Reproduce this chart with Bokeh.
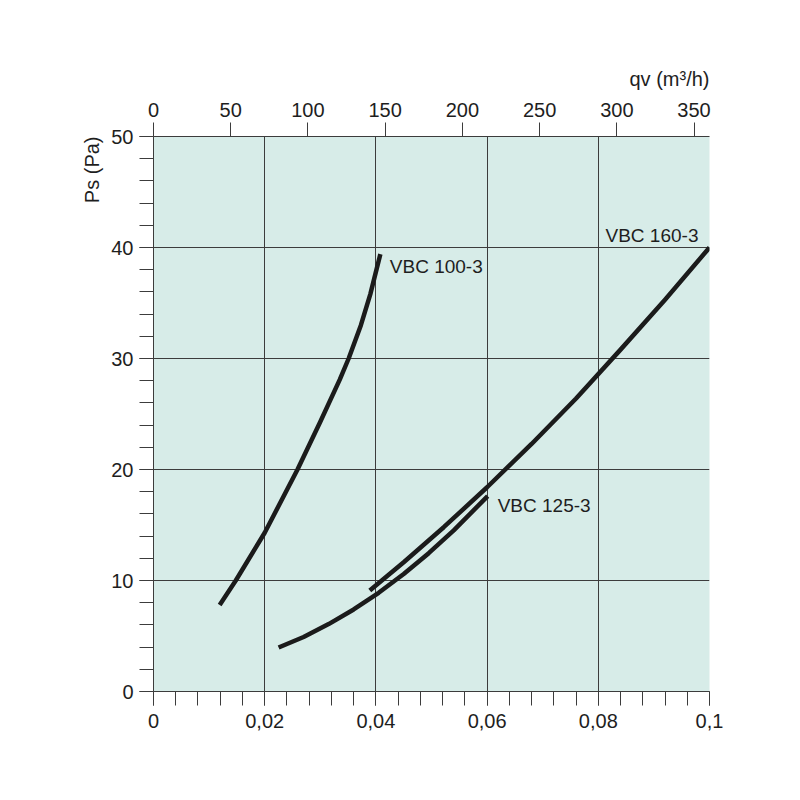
import math
from bokeh.plotting import figure
from bokeh.models import Range1d, LinearAxis, FixedTicker, Title
from bokeh.embed import file_html
from bokeh.resources import INLINE
from bokeh.core.properties import value

# ---- data (qv in m3/s, Ps in Pa) ----
vbc100_q = [0.0119, 0.0148, 0.0200, 0.0259, 0.0300, 0.0335, 0.0351, 0.0373, 0.0390, 0.0408]
vbc100_p = [7.8, 10.0, 14.3, 20.0, 24.3, 28.1, 30.0, 33.0, 35.8, 39.4]

vbc125_q = [0.0225, 0.0270, 0.0315, 0.0360, 0.0405, 0.0450, 0.0495, 0.0540, 0.0601]
vbc125_p = [3.96, 4.91, 6.07, 7.39, 8.89, 10.58, 12.46, 14.52, 17.6]

vbc160_q = [0.0389, 0.0450, 0.0522, 0.0600, 0.0680, 0.0760, 0.0840, 0.0920, 0.1000]
vbc160_p = [9.1, 11.65, 14.8, 18.4, 22.3, 26.4, 30.8, 35.3, 40.0]

curve_names = ["VBC 100-3", "VBC 125-3", "VBC 160-3"]

x_ticks = [0, 0.02, 0.04, 0.06, 0.08, 0.1]
x_tick_labels = ["0", "0,02", "0,04", "0,06", "0,08", "0,1"]
x_minor = [i * 0.004 for i in range(26)]
y_ticks = [0, 10, 20, 30, 40, 50]
y_minor = list(range(0, 51, 2))
top_ticks = [0, 50, 100, 150, 200, 250, 300, 350]

FONT = "Liberation Sans"
INK = "#1b1b1b"
TXT = "#1e1e1e"
GRID = "#3c3c3c"

p = figure(width=790, height=790, output_backend="svg", toolbar_location=None,
           x_range=Range1d(0, 0.1), y_range=Range1d(0, 50),
           min_border_left=153, min_border_right=81, min_border_top=136, min_border_bottom=99,
           background_fill_color="#d7ece8", border_fill_color="white",
           outline_line_color=None)
p.extra_x_ranges = {"qvh": Range1d(0, 360)}

# bottom axis
xa = p.xaxis[0]
xa.ticker = FixedTicker(ticks=x_ticks, minor_ticks=x_minor)
xa.major_label_overrides = {t: l for t, l in zip(x_ticks, x_tick_labels)}
xa.major_tick_in = 0
xa.major_tick_out = 14
xa.minor_tick_in = 0
xa.minor_tick_out = 14
xa.major_label_standoff = 8

# left axis
ya = p.yaxis[0]
ya.ticker = FixedTicker(ticks=y_ticks, minor_ticks=y_minor)
ya.major_tick_in = 0
ya.major_tick_out = 14
ya.minor_tick_in = 0
ya.minor_tick_out = 14
ya.major_label_standoff = 6
ya.major_label_orientation = "horizontal"

# top axis (m3/h)
ta = LinearAxis(x_range_name="qvh", ticker=FixedTicker(ticks=top_ticks, minor_ticks=[]))
ta.major_tick_in = 0
ta.major_tick_out = 14
ta.minor_tick_in = 0
ta.minor_tick_out = 0
ta.major_label_standoff = 6
p.add_layout(ta, "above")

for a in [xa, ya, ta]:
    a.axis_line_color = GRID
    a.major_tick_line_color = GRID
    a.minor_tick_line_color = GRID
    a.major_label_text_font = FONT
    a.major_label_text_font_size = "20px"
    a.major_label_text_color = TXT

p.xgrid.ticker = FixedTicker(ticks=x_ticks)
p.ygrid.ticker = FixedTicker(ticks=y_ticks)
for g in [p.xgrid, p.ygrid]:
    g.grid_line_color = GRID
    g.grid_line_width = 1

# curves
for qs, ps in [(vbc100_q, vbc100_p), (vbc125_q, vbc125_p), (vbc160_q, vbc160_p)]:
    p.line(qs, ps, line_width=4.5, line_color=INK, line_join="round")

# curve labels
label_pos = [(0.0425, 38.3), (0.0619, 16.8), (0.0813, 41.1)]
p.text(x=[lp[0] for lp in label_pos], y=[lp[1] for lp in label_pos], text=curve_names,
       text_font=value(FONT), text_font_size="19px", text_color=TXT,
       text_align="left", text_baseline="middle")

# axis titles
p.add_layout(Title(text="qv (m³/h)", align="right", text_font=FONT, text_font_size="20px",
                   text_font_style="normal", text_color=TXT, standoff=20), "above")
p.add_layout(Title(text="Ps (Pa)", align="right", text_font=FONT, text_font_size="20px",
                   text_font_style="normal", text_color=TXT, standoff=11), "left")

open("out.html", "w").write(file_html(p, INLINE))
